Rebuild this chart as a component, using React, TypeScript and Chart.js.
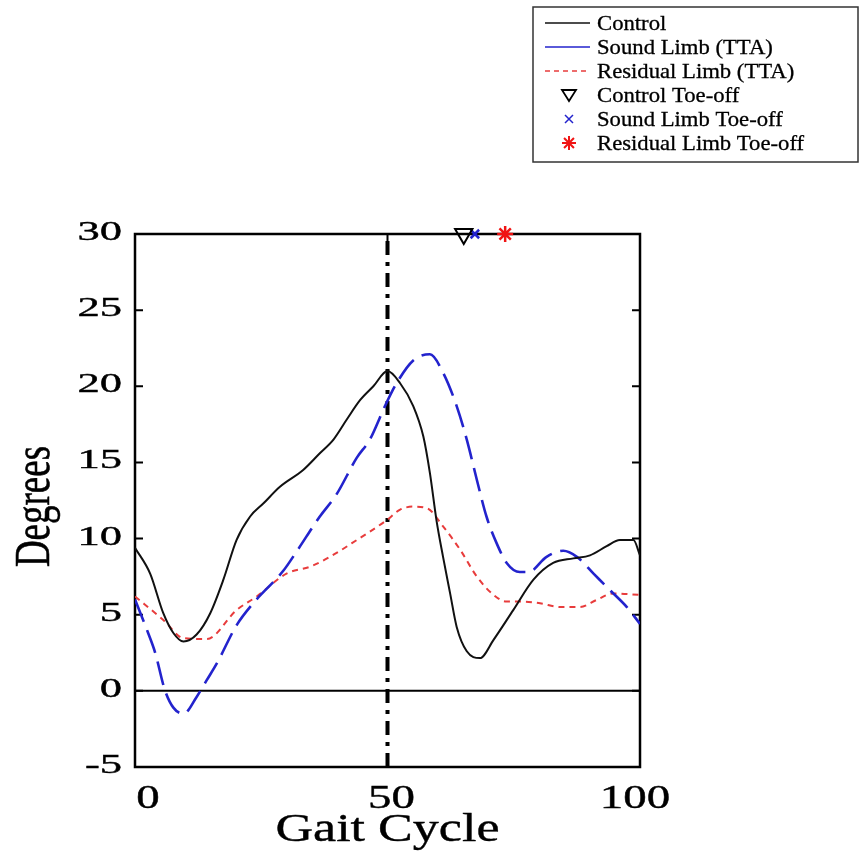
import React, { useEffect, useRef } from "react";
import { Chart, registerables } from "chart.js";

Chart.register(...registerables);

// Knee angle over the gait cycle (% of stride)
const controlPct = [0, 3, 5.6, 7.6, 9.6, 12.2, 14.9, 17.5, 20.1, 22.8, 25.4, 28.7, 33.3, 36.6, 39.3, 41.9, 44.6, 47.2, 50, 52.5, 55.1, 57.1, 58.4, 59.7, 61, 62.4, 63.7, 65.7, 68.3, 71, 74.9, 78.9, 82.8, 86.8, 90.1, 93.4, 96, 98.7, 100];
const controlDeg = [9.4, 7.7, 5.1, 3.8, 3.24, 3.7, 5.1, 7.3, 9.9, 11.45, 12.3, 13.4, 14.5, 15.6, 16.5, 17.8, 19.1, 20, 21, 20.2, 18.7, 16.7, 14.3, 11.2, 8.8, 6.4, 4.2, 2.6, 2.15, 3.35, 5.3, 7.3, 8.4, 8.7, 8.9, 9.5, 9.9, 9.9, 8.9];

const soundPct = [0, 2.6, 4, 5.9, 7.6, 9.6, 12.2, 14.2, 16.2, 20.1, 23.4, 29.4, 32, 36.6, 39.9, 43.9, 46.5, 49.5, 51.8, 55.1, 58.4, 61, 63.7, 65.7, 67.7, 69.6, 71.6, 73.6, 76.2, 77.9, 81.5, 84.8, 87.5, 90.8, 94.1, 97.4, 100];
const soundDeg = [6.0, 3.8, 2.5, 0.07, -1.1, -1.5, -0.4, 0.7, 1.8, 4.3, 5.75, 7.9, 9.15, 11.45, 12.9, 15.3, 16.5, 18.7, 20.2, 21.7, 22.1, 20.9, 18.7, 16.5, 13.85, 11.45, 9.7, 8.4, 7.8, 7.8, 8.8, 9.2, 8.8, 7.7, 6.6, 5.5, 4.4];

const residualPct = [0, 5.6, 9.6, 14.2, 20.1, 24.1, 30, 34.7, 38.6, 43.9, 49.8, 52.5, 55.1, 57.8, 61, 64.4, 67.7, 71, 73.6, 76.9, 80.2, 84.2, 88.1, 91.4, 94.7, 100];
const residualDeg = [6.2, 4.66, 3.46, 3.4, 5.3, 6.2, 7.7, 8.16, 8.8, 9.9, 11.2, 11.9, 12.1, 12.0, 10.8, 9.26, 7.5, 6.3, 5.86, 5.86, 5.75, 5.5, 5.5, 5.97, 6.4, 6.3];

// Toe-off events, marked along the top of the plot
const toeOffPct = [65.1, 67.3, 73.3];
const toeOffMarkerDeg = 30;

const seriesLabels = ["Control", "Sound Limb (TTA)", "Residual Limb (TTA)"];
const toeOffLabels = ["Control Toe-off", "Sound Limb Toe-off", "Residual Limb Toe-off"];

const xTicks = [0, 50, 100];
const yTicks = [-5, 0, 5, 10, 15, 20, 25, 30];
const strideSplitPct = 50;

const SERIF = "'Liberation Serif', 'Times New Roman', serif";
const BLUE = "rgb(35,35,205)";
const RED = "rgb(232,60,60)";

const pts = (xs: number[], ys: number[]) => xs.map((x, i) => ({ x, y: ys[i] }));

function stretchedText(
  ctx: CanvasRenderingContext2D,
  text: string,
  x: number,
  y: number,
  size: number,
  sx: number,
  align: CanvasTextAlign,
  baseline: CanvasTextBaseline,
  weight = 0
) {
  ctx.save();
  ctx.translate(x, y);
  ctx.scale(sx, 1);
  ctx.font = `${size}px ${SERIF}`;
  ctx.fillStyle = "#000";
  ctx.textAlign = align;
  ctx.textBaseline = baseline;
  ctx.fillText(text, 0, 0);
  if (weight > 0) {
    ctx.strokeStyle = "#000";
    ctx.lineWidth = weight;
    ctx.strokeText(text, 0, 0);
  }
  ctx.restore();
}

function drawMarker(ctx: CanvasRenderingContext2D, kind: string, x: number, y: number) {
  ctx.save();
  if (kind === "tri") {
    ctx.strokeStyle = "#000";
    ctx.lineWidth = 1.8;
    ctx.beginPath();
    ctx.moveTo(x - 7, y - 5);
    ctx.lineTo(x + 7, y - 5);
    ctx.lineTo(x, y + 6);
    ctx.closePath();
    ctx.stroke();
  } else if (kind === "x") {
    ctx.strokeStyle = BLUE;
    ctx.lineWidth = 1.5;
    ctx.beginPath();
    ctx.moveTo(x - 4, y - 4);
    ctx.lineTo(x + 4, y + 4);
    ctx.moveTo(x + 4, y - 4);
    ctx.lineTo(x - 4, y + 4);
    ctx.stroke();
  } else {
    ctx.strokeStyle = "rgb(240,20,20)";
    ctx.lineWidth = 2;
    ctx.beginPath();
    for (let k = 0; k < 4; k++) {
      const a = (k * Math.PI) / 4;
      ctx.moveTo(x - 7 * Math.cos(a), y - 7 * Math.sin(a));
      ctx.lineTo(x + 7 * Math.cos(a), y + 7 * Math.sin(a));
    }
    ctx.stroke();
  }
  ctx.restore();
}

const axesPlugin = {
  id: "matlabAxes",
  beforeDatasetsDraw(chart: any) {
    const { ctx, chartArea: a, scales } = chart;
    const xs = scales.x;
    const ys = scales.y;
    ctx.save();
    // zero line
    const y0 = ys.getPixelForValue(0);
    ctx.strokeStyle = "#000";
    ctx.lineWidth = 2;
    ctx.beginPath();
    ctx.moveTo(a.left, y0);
    ctx.lineTo(a.right, y0);
    ctx.stroke();
    // stance / swing split
    const xm = xs.getPixelForValue(strideSplitPct);
    ctx.lineWidth = 4;
    ctx.setLineDash([14, 7, 4, 7]);
    ctx.beginPath();
    ctx.moveTo(xm, a.bottom);
    ctx.lineTo(xm, a.top);
    ctx.stroke();
    ctx.setLineDash([]);
    // frame
    ctx.lineWidth = 2.5;
    ctx.strokeRect(a.left, a.top, a.right - a.left, a.bottom - a.top);
    // inward ticks
    ctx.lineWidth = 2;
    ctx.beginPath();
    yTicks.forEach((v) => {
      const py = ys.getPixelForValue(v);
      ctx.moveTo(a.left, py);
      ctx.lineTo(a.left + 8, py);
      ctx.moveTo(a.right, py);
      ctx.lineTo(a.right - 8, py);
    });
    xTicks.forEach((v) => {
      const px = xs.getPixelForValue(v);
      ctx.moveTo(px, a.bottom);
      ctx.lineTo(px, a.bottom - 8);
      ctx.moveTo(px, a.top);
      ctx.lineTo(px, a.top + 8);
    });
    ctx.stroke();
    ctx.restore();

    // tick labels
    yTicks.forEach((v) => {
      stretchedText(ctx, String(v), a.left - 13, ys.getPixelForValue(v) + 6, 27, 1.65, "right", "alphabetic", 0.4);
    });
    xTicks.forEach((v) => {
      const shift = 13 - 0.18 * v;
      stretchedText(ctx, String(v), xs.getPixelForValue(v) + shift, a.bottom + 41, 34, 1.38, "center", "alphabetic", 0.4);
    });
    // axis titles
    stretchedText(ctx, "Gait Cycle", (a.left + a.right) / 2, a.bottom + 74, 41, 1.27, "center", "alphabetic", 0.4);
    ctx.save();
    ctx.translate(49, (a.top + a.bottom) / 2 + 6);
    ctx.rotate(-Math.PI / 2);
    ctx.scale(1, 1.38);
    ctx.font = `37px ${SERIF}`;
    ctx.fillStyle = "#000";
    ctx.textAlign = "center";
    ctx.textBaseline = "alphabetic";
    ctx.fillText("Degrees", 0, 0);
    ctx.strokeStyle = "#000";
    ctx.lineWidth = 0.4;
    ctx.strokeText("Degrees", 0, 0);
    ctx.restore();
  },
  afterDraw(chart: any) {
    const { ctx } = chart;
    const ds = chart.data.datasets;
    const bx = 533, by = 7, bw = 325, bh = 155;
    ctx.save();
    ctx.fillStyle = "#fff";
    ctx.fillRect(bx, by, bw, bh);
    ctx.strokeStyle = "#333";
    ctx.lineWidth = 1.5;
    ctx.strokeRect(bx, by, bw, bh);
    ctx.restore();
    const rowH = 24;
    const kinds = ["tri", "x", "star"];
    ds.forEach((d: any, i: number) => {
      const cy = by + 16 + i * rowH;
      if (i < 3) {
        ctx.save();
        ctx.strokeStyle = d.borderColor;
        ctx.lineWidth = 1.6;
        ctx.setLineDash(i === 2 ? [5, 4] : []);
        ctx.beginPath();
        ctx.moveTo(545, cy);
        ctx.lineTo(590, cy);
        ctx.stroke();
        ctx.restore();
      } else {
        drawMarker(ctx, kinds[i - 3], 569, cy);
      }
      stretchedText(ctx, d.label, 597, cy + 7, 21, 1.08, "left", "alphabetic", 0.3);
    });
  },
};

export default function App() {
  const ref = useRef<HTMLCanvasElement | null>(null);

  useEffect(() => {
    if (!ref.current) return;
    const chart = new Chart(ref.current, {
      type: "line",
      data: {
        datasets: [
          {
            label: seriesLabels[0],
            data: pts(controlPct, controlDeg),
            borderColor: "#111",
            borderWidth: 2,
            pointRadius: 0,
            cubicInterpolationMode: "monotone",
          },
          {
            label: seriesLabels[1],
            data: pts(soundPct, soundDeg),
            borderColor: BLUE,
            borderWidth: 2.6,
            borderDash: [24, 9],
            pointRadius: 0,
            cubicInterpolationMode: "monotone",
          },
          {
            label: seriesLabels[2],
            data: pts(residualPct, residualDeg),
            borderColor: RED,
            borderWidth: 2,
            borderDash: [6, 5],
            pointRadius: 0,
            cubicInterpolationMode: "monotone",
          },
          {
            label: toeOffLabels[0],
            data: [{ x: toeOffPct[0], y: toeOffMarkerDeg }],
            showLine: false,
            pointStyle: "triangle",
            rotation: 180,
            pointRadius: 10,
            borderColor: "#000",
            backgroundColor: "rgba(0,0,0,0)",
            pointBorderWidth: 2,
            clip: false,
          },
          {
            label: toeOffLabels[1],
            data: [{ x: toeOffPct[1], y: toeOffMarkerDeg }],
            showLine: false,
            pointStyle: "crossRot",
            pointRadius: 6,
            borderColor: BLUE,
            pointBorderWidth: 2.5,
            clip: false,
          },
          {
            label: toeOffLabels[2],
            data: [{ x: toeOffPct[2], y: toeOffMarkerDeg }],
            showLine: false,
            pointStyle: "star",
            pointRadius: 8,
            borderColor: "rgb(240,20,20)",
            pointBorderWidth: 2.5,
            clip: false,
          },
        ],
      },
      options: {
        responsive: false,
        animation: false,
        layout: { padding: { left: 135, top: 234, right: 221, bottom: 84 } },
        plugins: { legend: { display: false }, tooltip: { enabled: false } },
        scales: {
          x: { type: "linear", min: 0, max: 100, display: false },
          y: { type: "linear", min: -5, max: 30, display: false },
        },
      },
      plugins: [axesPlugin],
    } as any);
    return () => chart.destroy();
  }, []);

  return (
    <div style={{ position: "absolute", left: 0, top: 0, width: 861, height: 851, background: "#fff" }}>
      <canvas ref={ref} width={861} height={851} />
    </div>
  );
}
